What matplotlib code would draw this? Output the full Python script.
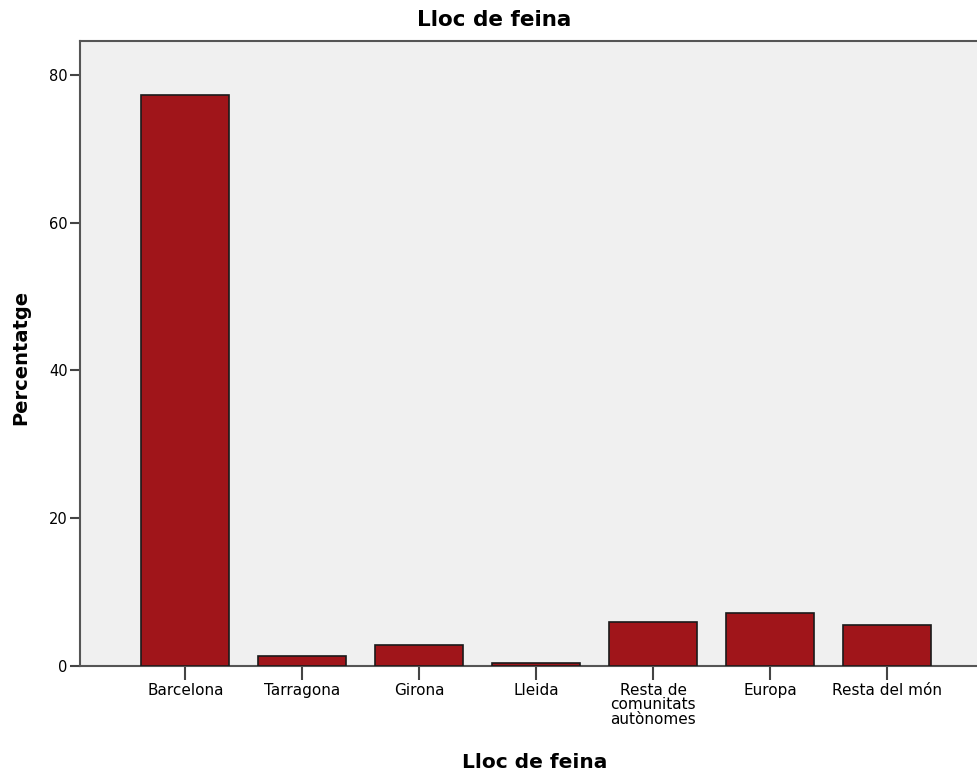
import matplotlib
matplotlib.use("Agg")
import matplotlib.pyplot as plt

categories = ["Barcelona", "Tarragona", "Girona", "Lleida",
              "Resta de\ncomunitats\nautònomes", "Europa", "Resta del món"]
percentages = [77.3, 1.35, 2.85, 0.4, 5.95, 7.15, 5.55]
yticks = [0, 20, 40, 60, 80]

plt.rcParams['font.family'] = ['DejaVu Sans']

W, H = 977, 773
fig = plt.figure(figsize=(W/100, H/100), dpi=100)
ax = fig.add_axes([80/W, 107/H, 1 - 80/W, (666 - 41)/H])
ax.set_facecolor('#F0F0F0')

x = list(range(len(categories)))
ax.bar(x, percentages, width=0.75, color='#A0151A', edgecolor='#1a1a1a', linewidth=1.2, zorder=3)

ax.set_xlim(-0.9, 6.77)
ax.set_ylim(0, 84.6)
ax.set_xticks(x)
ax.set_xticklabels(categories, fontsize=11, linespacing=0.98)
ax.set_yticks(yticks)
ax.tick_params(axis='x', direction='out', length=10, width=1.5, color='#444444', pad=2)
ax.tick_params(axis='y', direction='out', length=7, width=1.5, color='#444444', pad=2, labelsize=10.5)

for side in ['left', 'bottom', 'top']:
    ax.spines[side].set_color('#555555')
    ax.spines[side].set_linewidth(1.5)
ax.spines['right'].set_visible(False)

# title sits centred on the figure, not the axes
fig.text(494/W, 1 - 20/H, "Lloc de feina", fontsize=15.5, fontweight='bold',
         ha='center', va='center')
ax.set_xlabel("Lloc de feina", fontsize=14.5, fontweight='bold', va='center')
ax.xaxis.set_label_coords((535 - 80)/(W - 80), -(762 - 666)/(666 - 41))
ax.set_ylabel("Percentatge", fontsize=14, fontweight='bold', va='center')
ax.yaxis.set_label_coords(-(80 - 21)/(W - 80), (666 - 357)/(666 - 41))

fig.savefig("out.png", dpi=100)
